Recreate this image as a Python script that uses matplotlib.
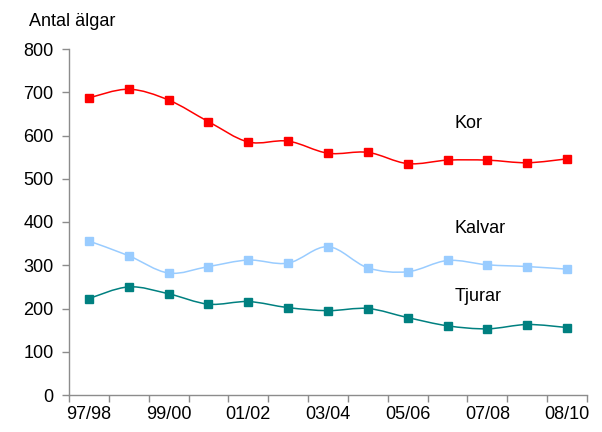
import matplotlib
matplotlib.use("Agg")
import matplotlib.pyplot as plt
import numpy as np
from matplotlib.path import Path
from matplotlib.patches import PathPatch

plt.rcParams['font.family'] = ['Liberation Sans', 'DejaVu Sans']

seasons = ["97/98", "98/99", "99/00", "00/01", "01/02", "02/03", "03/04",
           "04/05", "05/06", "06/07", "07/08", "08/09", "08/10"]
kor = [687, 707, 682, 632, 585, 587, 559, 561, 535, 543, 543, 537, 546]
kalvar = [356, 322, 282, 297, 312, 305, 343, 294, 285, 311, 301, 297, 291]
tjurar = [223, 250, 234, 210, 216, 202, 195, 200, 179, 160, 153, 163, 156]
shown_labels = ["97/98", "", "99/00", "", "01/02", "", "03/04", "",
                "05/06", "", "07/08", "", "08/10"]
yticks = [0, 100, 200, 300, 400, 500, 600, 700, 800]

fig = plt.figure(figsize=(6.02, 4.32), dpi=100)
ax = fig.add_axes([69/602, 1-395/432, (587-69)/602, (395-49)/432])

x = np.arange(len(seasons))


def smooth_path(xs, ys):
    pts = np.column_stack([xs, ys]).astype(float)
    n = len(pts)
    verts = [pts[0]]
    codes = [Path.MOVETO]
    for i in range(n - 1):
        p0 = pts[i - 1] if i > 0 else pts[i]
        p1 = pts[i]
        p2 = pts[i + 1]
        p3 = pts[i + 2] if i + 2 < n else pts[i + 1]
        c1 = p1 + (p2 - p0) / 6.0
        c2 = p2 - (p3 - p1) / 6.0
        verts += [c1, c2, p2]
        codes += [Path.CURVE4] * 3
    return Path(verts, codes)


series = [(kor, '#FF0000'), (kalvar, '#99CCFF'), (tjurar, '#008080')]
for vals, col in series:
    ax.add_patch(PathPatch(smooth_path(x, vals), facecolor='none',
                           edgecolor=col, lw=1.1, zorder=2))
    ax.plot(x, vals, linestyle='none', marker='s', ms=6, color=col,
            mec=col, zorder=3, clip_on=False)

ax.set_xlim(-0.5, len(seasons) - 0.5)
ax.set_ylim(0, 800)

ax.set_xticks(x)
ax.set_xticklabels(shown_labels)
ax.set_xticks(np.arange(len(seasons) + 1) - 0.5, minor=True)
ax.tick_params(axis='x', which='major', length=0, pad=8, labelsize=13)
ax.tick_params(axis='x', which='minor', length=5, width=1.0, color='#8c8c8c',
               direction='out')
ax.set_yticks(yticks)
ax.tick_params(axis='y', which='major', length=5, width=1.0, color='#8c8c8c',
               direction='out', pad=6, labelsize=13)

for s in ['top', 'right']:
    ax.spines[s].set_visible(False)
for s in ['left', 'bottom']:
    ax.spines[s].set_color('#8c8c8c')
    ax.spines[s].set_linewidth(1.0)

ax.text(9.18, 618, "Kor", fontsize=13, ha='left', va='baseline')
ax.text(9.18, 375, "Kalvar", fontsize=13, ha='left', va='baseline')
ax.text(9.18, 217, "Tjurar", fontsize=13, ha='left', va='baseline')

fig.text(29/602, 1-26/432, "Antal älgar", fontsize=13, ha='left', va='baseline')

fig.savefig("out.png", dpi=100)
